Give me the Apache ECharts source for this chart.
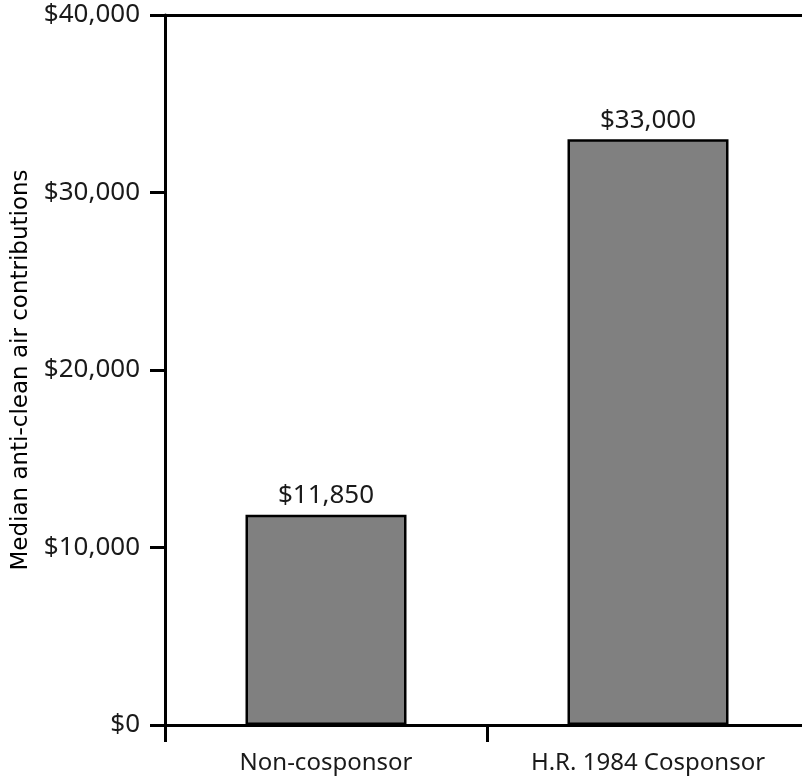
<!DOCTYPE html>
<html>
<head>
<meta charset="utf-8">
<script src="https://cdn.jsdelivr.net/npm/echarts@6/dist/echarts.min.js"></script>
<style>
  html, body { margin: 0; padding: 0; background: #ffffff; overflow: hidden; }
  #wrap { width: 802px; height: 780px; overflow: hidden; }
  /* the plot's right edge runs just past the visible area */
  #chart { width: 820px; height: 780px; }
</style>
</head>
<body>
<div id="wrap"><div id="chart"></div></div>
<script>
// Median anti-clean air contributions by cosponsorship of H.R. 1984
const categories = ['Non-cosponsor', 'H.R. 1984 Cosponsor'];
const medianContributions = [11850, 33000];
const yTicks = [0, 10000, 20000, 30000, 40000];

const fmtDollar = v => '$' + Number(v).toLocaleString('en-US');

const chart = echarts.init(document.getElementById('chart'), null, { renderer: 'canvas' });

const labelFont = '"Noto Sans", "Open Sans", sans-serif';
const ink = '#1a1a1a';

chart.setOption({
  animation: false,
  backgroundColor: '#ffffff',
  grid: { left: 165, top: 15, width: 644, height: 710, containLabel: false },
  xAxis: [
    {
      type: 'category',
      data: categories,
      position: 'bottom',
      axisLine: { show: true, lineStyle: { color: '#000', width: 3 } },
      axisTick: { show: true, length: 17, lineStyle: { color: '#000', width: 3 } },
      axisLabel: { color: ink, fontFamily: labelFont, fontSize: 24, margin: 26 }
    },
    {
      // top border line of the plot
      type: 'category',
      data: categories,
      position: 'top',
      axisLine: { show: true, lineStyle: { color: '#000', width: 3 } },
      axisTick: { show: false },
      axisLabel: { show: false }
    }
  ],
  yAxis: {
    type: 'value',
    min: yTicks[0],
    max: yTicks[yTicks.length - 1],
    interval: yTicks[1] - yTicks[0],
    name: 'Median anti-clean air contributions',
    nameLocation: 'middle',
    nameGap: 130,
    nameTextStyle: { color: '#000', fontFamily: '"DejaVu Sans", sans-serif', fontSize: 23 },
    axisLine: { show: true, lineStyle: { color: '#000', width: 3 } },
    axisTick: { show: true, length: 15, lineStyle: { color: '#000', width: 3 } },
    axisLabel: {
      color: ink, fontFamily: labelFont, fontSize: 26, margin: 25,
      formatter: v => fmtDollar(v)
    },
    splitLine: { show: false }
  },
  series: [{
    type: 'bar',
    data: medianContributions,
    barWidth: '50%',
    itemStyle: { color: '#808080', borderColor: '#000', borderWidth: 2.5 },
    label: {
      show: true,
      position: 'top',
      distance: 6,
      color: ink,
      fontFamily: labelFont,
      fontSize: 26,
      formatter: p => fmtDollar(p.value)
    }
  }]
});
</script>
</body>
</html>
